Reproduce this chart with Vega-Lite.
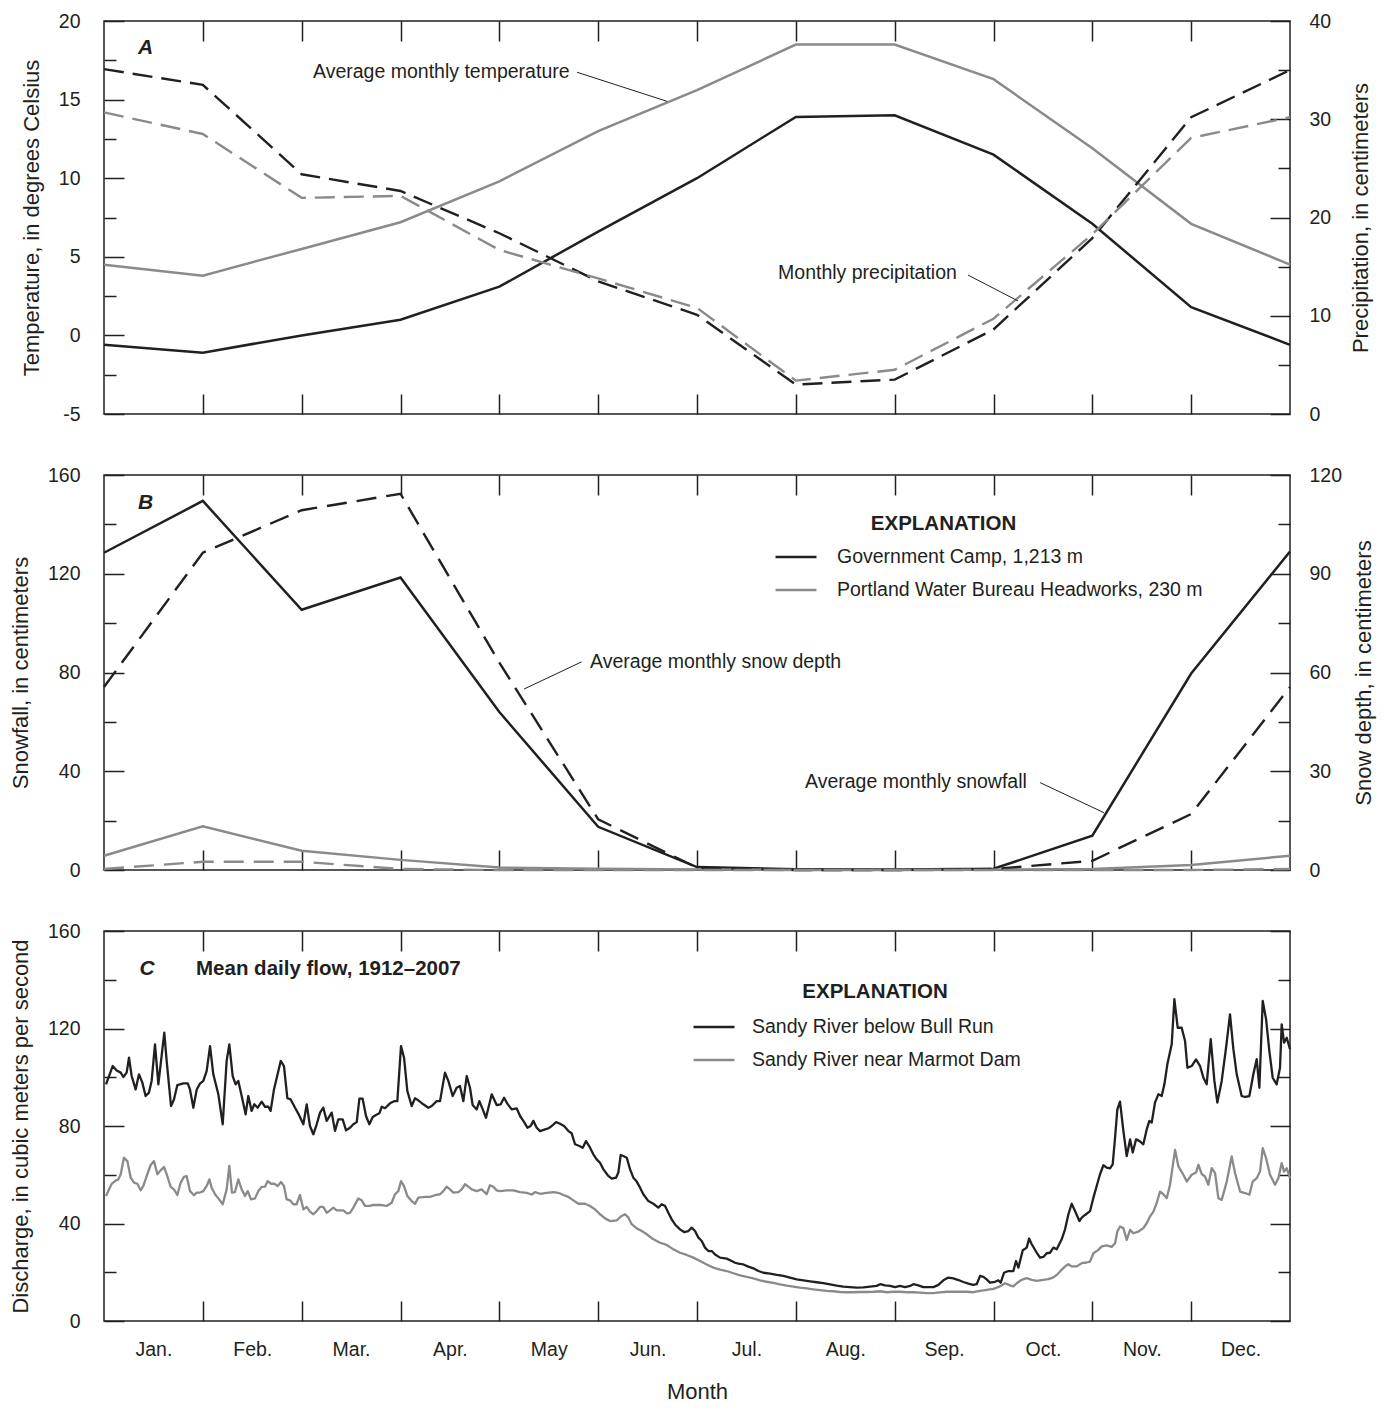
{
  "$schema": "https://vega.github.io/schema/vega-lite/v6.json",
  "background": "white",
  "padding": {"left": 8, "top": 10, "right": 8, "bottom": 5},
  "spacing": 61,
  "bounds": "flush",
  "config": {
    "font": "Liberation Sans",
    "view": {"stroke": "#231f20", "strokeWidth": 1.5},
    "axis": {"domain": false, "grid": false, "tickColor": "#231f20", "tickWidth": 1.5, "labelFont": "Liberation Sans", "labelFontSize": 19.5, "labelColor": "#231f20", "titleFont": "Liberation Sans", "titleFontSize": 22, "titleFontWeight": "normal", "titleColor": "#231f20", "labelFlush": false, "labelOverlap": false},
    "legend": {"labelFont": "Liberation Sans", "labelLimit": 600},
    "text": {"font": "Liberation Sans", "color": "#231f20"}
  },
  "resolve": {"scale": {"color": "independent"}, "legend": {"color": "independent"}},
  "datasets": {
    "monthly": [
      {"m":0,"st":"Government Camp, 1,213 m","temp":-0.6,"prcp":35.1,"snow":128.5,"depth":55.6},
      {"m":1,"st":"Government Camp, 1,213 m","temp":-1.1,"prcp":33.5,"snow":149.5,"depth":96.4},
      {"m":2,"st":"Government Camp, 1,213 m","temp":0.0,"prcp":24.4,"snow":105.4,"depth":109.3},
      {"m":3,"st":"Government Camp, 1,213 m","temp":1.0,"prcp":22.7,"snow":118.5,"depth":114.3},
      {"m":4,"st":"Government Camp, 1,213 m","temp":3.1,"prcp":18.4,"snow":64.0,"depth":63.0},
      {"m":5,"st":"Government Camp, 1,213 m","temp":6.6,"prcp":13.5,"snow":17.5,"depth":15.4},
      {"m":6,"st":"Government Camp, 1,213 m","temp":10.0,"prcp":10.1,"snow":1.2,"depth":0.7},
      {"m":7,"st":"Government Camp, 1,213 m","temp":13.9,"prcp":3.0,"snow":0.3,"depth":0},
      {"m":8,"st":"Government Camp, 1,213 m","temp":14.0,"prcp":3.5,"snow":0.2,"depth":0},
      {"m":9,"st":"Government Camp, 1,213 m","temp":11.5,"prcp":8.6,"snow":0.5,"depth":0.3},
      {"m":10,"st":"Government Camp, 1,213 m","temp":7.1,"prcp":17.9,"snow":13.9,"depth":2.8},
      {"m":11,"st":"Government Camp, 1,213 m","temp":1.8,"prcp":30.2,"snow":79.6,"depth":17.0},
      {"m":12,"st":"Government Camp, 1,213 m","temp":-0.6,"prcp":35.0,"snow":129.0,"depth":55.6},
      {"m":0,"st":"Portland Water Bureau Headworks, 230 m","temp":4.5,"prcp":30.7,"snow":5.8,"depth":0.3},
      {"m":1,"st":"Portland Water Bureau Headworks, 230 m","temp":3.8,"prcp":28.5,"snow":17.7,"depth":2.5},
      {"m":2,"st":"Portland Water Bureau Headworks, 230 m","temp":5.5,"prcp":22.0,"snow":7.8,"depth":2.5},
      {"m":3,"st":"Portland Water Bureau Headworks, 230 m","temp":7.2,"prcp":22.2,"snow":4.1,"depth":0.3},
      {"m":4,"st":"Portland Water Bureau Headworks, 230 m","temp":9.8,"prcp":16.7,"snow":1.0,"depth":0},
      {"m":5,"st":"Portland Water Bureau Headworks, 230 m","temp":13.0,"prcp":13.8,"snow":0.5,"depth":0},
      {"m":6,"st":"Portland Water Bureau Headworks, 230 m","temp":15.6,"prcp":10.8,"snow":0.2,"depth":0},
      {"m":7,"st":"Portland Water Bureau Headworks, 230 m","temp":18.5,"prcp":3.4,"snow":0,"depth":0},
      {"m":8,"st":"Portland Water Bureau Headworks, 230 m","temp":18.5,"prcp":4.5,"snow":0,"depth":0},
      {"m":9,"st":"Portland Water Bureau Headworks, 230 m","temp":16.3,"prcp":9.7,"snow":0.1,"depth":0},
      {"m":10,"st":"Portland Water Bureau Headworks, 230 m","temp":11.9,"prcp":18.3,"snow":0.4,"depth":0},
      {"m":11,"st":"Portland Water Bureau Headworks, 230 m","temp":7.1,"prcp":28.1,"snow":2.0,"depth":0},
      {"m":12,"st":"Portland Water Bureau Headworks, 230 m","temp":4.5,"prcp":30.2,"snow":5.8,"depth":0.3}
    ],
    "bull": [
      {"m":0.02,"q":97.1},{"m":0.088,"q":104.6},{"m":0.128,"q":102.8},{"m":0.169,"q":101.9},{"m":0.196,"q":100.1},{"m":0.229,"q":101.9},{"m":0.253,"q":108.0},{"m":0.28,"q":100.5},{"m":0.32,"q":95.0},{"m":0.354,"q":101.2},
      {"m":0.388,"q":97.8},{"m":0.421,"q":92.3},{"m":0.455,"q":93.7},{"m":0.482,"q":98.5},{"m":0.516,"q":113.5},{"m":0.55,"q":97.1},{"m":0.61,"q":118.3},{"m":0.634,"q":106.7},{"m":0.678,"q":88.2},{"m":0.708,"q":90.9},
      {"m":0.742,"q":96.8},{"m":0.803,"q":97.5},{"m":0.847,"q":97.5},{"m":0.87,"q":95.0},{"m":0.904,"q":87.5},{"m":0.938,"q":95.0},{"m":0.971,"q":97.4},{"m":1.005,"q":98.5},{"m":1.039,"q":102.6},{"m":1.073,"q":112.8},
      {"m":1.106,"q":101.2},{"m":1.157,"q":93.0},{"m":1.201,"q":80.7},{"m":1.241,"q":106.7},{"m":1.268,"q":113.5},{"m":1.302,"q":100.5},{"m":1.332,"q":97.1},{"m":1.359,"q":98.5},{"m":1.393,"q":92.3},{"m":1.433,"q":84.8},
      {"m":1.46,"q":92.3},{"m":1.494,"q":86.2},{"m":1.521,"q":88.9},{"m":1.555,"q":87.5},{"m":1.595,"q":90.0},{"m":1.629,"q":87.9},{"m":1.663,"q":87.9},{"m":1.686,"q":86.2},{"m":1.72,"q":95.0},{"m":1.788,"q":106.7},
      {"m":1.821,"q":104.6},{"m":1.855,"q":91.4},{"m":1.889,"q":90.9},{"m":1.933,"q":87.5},{"m":1.966,"q":85.1},{"m":2.017,"q":80.7},{"m":2.051,"q":88.9},{"m":2.084,"q":80.0},{"m":2.118,"q":76.6},{"m":2.152,"q":80.7},
      {"m":2.186,"q":85.5},{"m":2.219,"q":87.5},{"m":2.253,"q":82.1},{"m":2.304,"q":85.5},{"m":2.337,"q":78.0},{"m":2.371,"q":82.7},{"m":2.415,"q":82.7},{"m":2.449,"q":78.2},{"m":2.489,"q":79.3},{"m":2.523,"q":80.7},
      {"m":2.557,"q":81.6},{"m":2.584,"q":91.2},{"m":2.617,"q":91.2},{"m":2.651,"q":84.1},{"m":2.685,"q":80.7},{"m":2.719,"q":83.7},{"m":2.752,"q":84.5},{"m":2.786,"q":85.2},{"m":2.81,"q":87.9},{"m":2.843,"q":87.3},
      {"m":2.894,"q":89.3},{"m":2.935,"q":90.2},{"m":2.968,"q":90.2},{"m":3.005,"q":112.8},{"m":3.036,"q":108.0},{"m":3.069,"q":94.4},{"m":3.113,"q":88.2},{"m":3.147,"q":91.4},{"m":3.18,"q":90.5},{"m":3.231,"q":88.9},
      {"m":3.282,"q":87.5},{"m":3.316,"q":88.2},{"m":3.366,"q":90.2},{"m":3.4,"q":90.2},{"m":3.45,"q":101.9},{"m":3.484,"q":98.5},{"m":3.528,"q":92.3},{"m":3.568,"q":95.7},{"m":3.602,"q":96.4},{"m":3.636,"q":90.2},
      {"m":3.67,"q":100.5},{"m":3.703,"q":95.7},{"m":3.73,"q":88.6},{"m":3.771,"q":86.8},{"m":3.798,"q":90.2},{"m":3.832,"q":86.8},{"m":3.865,"q":83.4},{"m":3.923,"q":93.0},{"m":3.973,"q":88.6},{"m":4.014,"q":88.9},
      {"m":4.048,"q":91.6},{"m":4.081,"q":89.2},{"m":4.125,"q":86.8},{"m":4.176,"q":87.2},{"m":4.21,"q":84.1},{"m":4.243,"q":82.1},{"m":4.284,"q":79.3},{"m":4.317,"q":80.0},{"m":4.344,"q":82.1},{"m":4.378,"q":79.3},
      {"m":4.412,"q":77.9},{"m":4.462,"q":78.6},{"m":4.496,"q":79.0},{"m":4.53,"q":80.0},{"m":4.574,"q":81.6},{"m":4.614,"q":80.9},{"m":4.655,"q":80.0},{"m":4.699,"q":77.9},{"m":4.732,"q":77.0},{"m":4.766,"q":72.5},
      {"m":4.81,"q":71.8},{"m":4.844,"q":71.1},{"m":4.877,"q":73.8},{"m":4.918,"q":71.1},{"m":4.951,"q":68.4},{"m":4.985,"q":66.3},{"m":5.019,"q":64.9},{"m":5.053,"q":62.2},{"m":5.103,"q":59.5},{"m":5.137,"q":58.4},
      {"m":5.181,"q":58.8},{"m":5.204,"q":60.9},{"m":5.228,"q":68.1},{"m":5.255,"q":67.7},{"m":5.289,"q":67.0},{"m":5.323,"q":62.2},{"m":5.356,"q":58.8},{"m":5.39,"q":57.2},{"m":5.424,"q":54.7},{"m":5.457,"q":52.0},
      {"m":5.508,"q":49.2},{"m":5.559,"q":48.1},{"m":5.609,"q":46.5},{"m":5.643,"q":47.9},{"m":5.677,"q":47.2},{"m":5.71,"q":44.4},{"m":5.744,"q":41.7},{"m":5.778,"q":39.6},{"m":5.828,"q":37.6},{"m":5.869,"q":36.5},
      {"m":5.913,"q":36.9},{"m":5.946,"q":38.3},{"m":5.98,"q":36.9},{"m":6.014,"q":34.2},{"m":6.048,"q":32.8},{"m":6.081,"q":30.1},{"m":6.115,"q":28.7},{"m":6.149,"q":28.7},{"m":6.183,"q":27.3},{"m":6.233,"q":26.0},
      {"m":6.301,"q":25.6},{"m":6.351,"q":24.6},{"m":6.385,"q":23.9},{"m":6.419,"q":23.5},{"m":6.469,"q":23.2},{"m":6.52,"q":22.3},{"m":6.57,"q":21.6},{"m":6.621,"q":20.5},{"m":6.672,"q":19.8},{"m":6.739,"q":19.4},
      {"m":6.807,"q":18.9},{"m":6.874,"q":18.5},{"m":6.941,"q":17.8},{"m":7.009,"q":17.1},{"m":7.076,"q":16.7},{"m":7.144,"q":16.3},{"m":7.211,"q":15.9},{"m":7.279,"q":15.5},{"m":7.346,"q":15.0},{"m":7.414,"q":14.5},
      {"m":7.481,"q":14.1},{"m":7.548,"q":13.9},{"m":7.616,"q":13.7},{"m":7.683,"q":13.8},{"m":7.751,"q":14.1},{"m":7.818,"q":14.4},{"m":7.852,"q":15.1},{"m":7.903,"q":14.6},{"m":7.953,"q":14.4},{"m":8.004,"q":13.9},
      {"m":8.054,"q":14.4},{"m":8.105,"q":13.9},{"m":8.156,"q":14.4},{"m":8.189,"q":15.1},{"m":8.24,"q":14.6},{"m":8.29,"q":13.9},{"m":8.341,"q":13.9},{"m":8.392,"q":13.9},{"m":8.442,"q":14.8},{"m":8.493,"q":16.7},
      {"m":8.543,"q":17.8},{"m":8.594,"q":17.5},{"m":8.645,"q":16.8},{"m":8.695,"q":16.0},{"m":8.746,"q":15.3},{"m":8.796,"q":14.8},{"m":8.83,"q":15.1},{"m":8.864,"q":18.5},{"m":8.898,"q":18.1},{"m":8.931,"q":17.1},
      {"m":8.965,"q":15.7},{"m":9.016,"q":16.1},{"m":9.049,"q":16.7},{"m":9.073,"q":15.7},{"m":9.107,"q":19.8},{"m":9.15,"q":20.5},{"m":9.201,"q":20.5},{"m":9.228,"q":24.6},{"m":9.252,"q":21.9},{"m":9.296,"q":29.0},
      {"m":9.336,"q":30.1},{"m":9.36,"q":33.8},{"m":9.387,"q":31.5},{"m":9.43,"q":28.5},{"m":9.471,"q":26.0},{"m":9.505,"q":26.3},{"m":9.538,"q":27.8},{"m":9.572,"q":28.0},{"m":9.606,"q":30.1},{"m":9.64,"q":29.4},
      {"m":9.69,"q":33.5},{"m":9.724,"q":37.6},{"m":9.758,"q":43.8},{"m":9.791,"q":48.1},{"m":9.825,"q":45.1},{"m":9.869,"q":41.0},{"m":9.893,"q":42.4},{"m":9.926,"q":43.5},{"m":9.977,"q":45.1},{"m":10.011,"q":50.6},
      {"m":10.044,"q":55.4},{"m":10.078,"q":60.2},{"m":10.112,"q":63.9},{"m":10.145,"q":62.9},{"m":10.179,"q":62.6},{"m":10.206,"q":64.3},{"m":10.23,"q":75.2},{"m":10.253,"q":86.8},{"m":10.28,"q":90.0},{"m":10.314,"q":78.0},
      {"m":10.348,"q":67.7},{"m":10.382,"q":74.5},{"m":10.409,"q":69.1},{"m":10.442,"q":74.5},{"m":10.476,"q":73.9},{"m":10.516,"q":72.5},{"m":10.55,"q":78.6},{"m":10.577,"q":82.1},{"m":10.601,"q":81.4},{"m":10.634,"q":89.6},
      {"m":10.668,"q":93.0},{"m":10.702,"q":92.3},{"m":10.729,"q":97.1},{"m":10.759,"q":105.3},{"m":10.803,"q":113.5},{"m":10.83,"q":132.0},{"m":10.864,"q":120.3},{"m":10.904,"q":120.3},{"m":10.938,"q":114.9},{"m":10.962,"q":103.9},
      {"m":11.005,"q":104.6},{"m":11.049,"q":107.3},{"m":11.09,"q":104.6},{"m":11.124,"q":99.8},{"m":11.157,"q":97.1},{"m":11.198,"q":115.6},{"m":11.235,"q":98.5},{"m":11.265,"q":89.6},{"m":11.309,"q":98.5},{"m":11.353,"q":112.1},
      {"m":11.393,"q":125.8},{"m":11.427,"q":111.5},{"m":11.461,"q":101.2},{"m":11.511,"q":92.3},{"m":11.545,"q":91.9},{"m":11.589,"q":92.3},{"m":11.629,"q":101.2},{"m":11.663,"q":107.4},{"m":11.69,"q":95.7},{"m":11.724,"q":131.3},
      {"m":11.758,"q":123.8},{"m":11.791,"q":110.8},{"m":11.825,"q":99.8},{"m":11.865,"q":97.1},{"m":11.899,"q":103.9},{"m":11.916,"q":121.7},{"m":11.94,"q":114.2},{"m":11.967,"q":116.2},{"m":12.0,"q":111.5}
    ],
    "marmot": [
      {"m":0.02,"q":51.3},{"m":0.078,"q":56.3},{"m":0.111,"q":57.4},{"m":0.145,"q":58.1},{"m":0.169,"q":60.2},{"m":0.202,"q":67.0},{"m":0.236,"q":65.6},{"m":0.27,"q":58.8},{"m":0.304,"q":56.8},{"m":0.337,"q":56.3},
      {"m":0.371,"q":53.6},{"m":0.398,"q":55.4},{"m":0.438,"q":60.2},{"m":0.472,"q":64.0},{"m":0.506,"q":65.6},{"m":0.54,"q":60.2},{"m":0.573,"q":61.8},{"m":0.607,"q":63.2},{"m":0.634,"q":60.2},{"m":0.675,"q":55.0},
      {"m":0.708,"q":54.0},{"m":0.742,"q":51.7},{"m":0.776,"q":56.8},{"m":0.809,"q":59.1},{"m":0.836,"q":59.5},{"m":0.87,"q":53.3},{"m":0.911,"q":51.6},{"m":0.938,"q":52.7},{"m":0.971,"q":52.7},{"m":1.005,"q":53.3},
      {"m":1.039,"q":55.4},{"m":1.066,"q":58.1},{"m":1.089,"q":54.7},{"m":1.123,"q":52.0},{"m":1.157,"q":50.3},{"m":1.201,"q":47.9},{"m":1.241,"q":54.0},{"m":1.268,"q":63.6},{"m":1.295,"q":52.7},{"m":1.325,"q":52.9},
      {"m":1.359,"q":58.1},{"m":1.393,"q":54.0},{"m":1.427,"q":51.3},{"m":1.454,"q":53.3},{"m":1.487,"q":49.9},{"m":1.528,"q":50.3},{"m":1.562,"q":53.3},{"m":1.595,"q":55.0},{"m":1.629,"q":55.1},{"m":1.656,"q":57.4},
      {"m":1.69,"q":56.3},{"m":1.723,"q":56.3},{"m":1.757,"q":55.4},{"m":1.791,"q":57.0},{"m":1.821,"q":55.4},{"m":1.848,"q":49.9},{"m":1.882,"q":49.5},{"m":1.916,"q":47.9},{"m":1.949,"q":47.9},{"m":1.983,"q":51.7},
      {"m":2.017,"q":45.8},{"m":2.051,"q":46.8},{"m":2.084,"q":44.9},{"m":2.118,"q":43.8},{"m":2.152,"q":45.1},{"m":2.185,"q":46.8},{"m":2.219,"q":46.8},{"m":2.253,"q":44.4},{"m":2.287,"q":45.4},{"m":2.32,"q":46.5},
      {"m":2.354,"q":45.4},{"m":2.388,"q":45.4},{"m":2.422,"q":45.4},{"m":2.455,"q":44.2},{"m":2.489,"q":44.4},{"m":2.523,"q":46.5},{"m":2.573,"q":50.3},{"m":2.607,"q":49.5},{"m":2.641,"q":47.2},{"m":2.691,"q":47.2},
      {"m":2.725,"q":47.6},{"m":2.793,"q":47.6},{"m":2.86,"q":47.2},{"m":2.911,"q":48.5},{"m":2.944,"q":52.0},{"m":2.978,"q":53.3},{"m":3.005,"q":57.4},{"m":3.035,"q":55.4},{"m":3.069,"q":51.3},{"m":3.113,"q":49.2},
      {"m":3.147,"q":48.1},{"m":3.18,"q":50.6},{"m":3.248,"q":50.9},{"m":3.298,"q":50.9},{"m":3.349,"q":51.6},{"m":3.4,"q":52.0},{"m":3.433,"q":53.3},{"m":3.467,"q":55.1},{"m":3.501,"q":54.0},{"m":3.535,"q":52.7},
      {"m":3.585,"q":52.9},{"m":3.619,"q":54.0},{"m":3.653,"q":56.1},{"m":3.686,"q":55.1},{"m":3.72,"q":54.0},{"m":3.771,"q":53.3},{"m":3.821,"q":54.0},{"m":3.872,"q":52.0},{"m":3.905,"q":55.7},{"m":3.939,"q":55.1},
      {"m":3.973,"q":53.6},{"m":4.007,"q":53.3},{"m":4.075,"q":53.6},{"m":4.142,"q":53.6},{"m":4.21,"q":52.9},{"m":4.277,"q":52.6},{"m":4.328,"q":51.9},{"m":4.361,"q":52.9},{"m":4.412,"q":52.2},{"m":4.479,"q":52.6},
      {"m":4.547,"q":52.9},{"m":4.597,"q":52.6},{"m":4.648,"q":51.7},{"m":4.699,"q":50.9},{"m":4.749,"q":49.5},{"m":4.8,"q":48.1},{"m":4.867,"q":48.1},{"m":4.918,"q":47.2},{"m":4.968,"q":45.8},{"m":5.019,"q":43.8},
      {"m":5.07,"q":42.1},{"m":5.12,"q":41.0},{"m":5.188,"q":41.3},{"m":5.238,"q":43.1},{"m":5.272,"q":43.8},{"m":5.306,"q":42.4},{"m":5.339,"q":39.7},{"m":5.39,"q":38.0},{"m":5.441,"q":36.9},{"m":5.491,"q":35.6},
      {"m":5.559,"q":33.5},{"m":5.626,"q":32.1},{"m":5.694,"q":31.2},{"m":5.761,"q":29.4},{"m":5.828,"q":28.0},{"m":5.896,"q":27.1},{"m":5.963,"q":26.0},{"m":6.031,"q":24.6},{"m":6.098,"q":23.2},{"m":6.166,"q":21.9},
      {"m":6.233,"q":21.1},{"m":6.301,"q":20.5},{"m":6.368,"q":19.6},{"m":6.436,"q":18.7},{"m":6.503,"q":18.1},{"m":6.57,"q":17.5},{"m":6.638,"q":16.7},{"m":6.705,"q":16.1},{"m":6.773,"q":15.6},{"m":6.84,"q":15.0},
      {"m":6.908,"q":14.5},{"m":6.975,"q":14.1},{"m":7.043,"q":13.7},{"m":7.11,"q":13.4},{"m":7.178,"q":13.0},{"m":7.245,"q":12.7},{"m":7.312,"q":12.4},{"m":7.38,"q":12.2},{"m":7.447,"q":11.9},{"m":7.515,"q":11.8},
      {"m":7.582,"q":11.8},{"m":7.65,"q":11.9},{"m":7.717,"q":11.9},{"m":7.785,"q":12.0},{"m":7.852,"q":12.2},{"m":7.92,"q":11.8},{"m":7.987,"q":12.0},{"m":8.054,"q":12.0},{"m":8.122,"q":11.8},{"m":8.189,"q":11.8},
      {"m":8.257,"q":11.6},{"m":8.324,"q":11.4},{"m":8.392,"q":11.4},{"m":8.459,"q":11.7},{"m":8.527,"q":12.0},{"m":8.594,"q":12.0},{"m":8.661,"q":12.0},{"m":8.729,"q":12.0},{"m":8.796,"q":11.8},{"m":8.864,"q":12.4},
      {"m":8.931,"q":12.8},{"m":8.999,"q":13.2},{"m":9.066,"q":14.2},{"m":9.117,"q":15.5},{"m":9.167,"q":14.6},{"m":9.201,"q":14.2},{"m":9.235,"q":15.5},{"m":9.285,"q":16.9},{"m":9.336,"q":17.6},{"m":9.387,"q":16.9},
      {"m":9.437,"q":16.5},{"m":9.505,"q":16.9},{"m":9.555,"q":17.2},{"m":9.606,"q":17.9},{"m":9.64,"q":18.9},{"m":9.673,"q":20.3},{"m":9.724,"q":22.4},{"m":9.758,"q":23.3},{"m":9.791,"q":22.4},{"m":9.842,"q":22.4},
      {"m":9.893,"q":23.7},{"m":9.943,"q":24.0},{"m":9.977,"q":24.4},{"m":10.011,"q":27.8},{"m":10.061,"q":29.2},{"m":10.095,"q":30.6},{"m":10.145,"q":31.0},{"m":10.196,"q":30.4},{"m":10.23,"q":31.9},{"m":10.253,"q":36.7},
      {"m":10.28,"q":38.8},{"m":10.314,"q":38.1},{"m":10.348,"q":33.3},{"m":10.382,"q":37.4},{"m":10.415,"q":36.0},{"m":10.466,"q":36.7},{"m":10.516,"q":38.1},{"m":10.55,"q":40.1},{"m":10.584,"q":42.9},{"m":10.618,"q":44.9},
      {"m":10.651,"q":48.4},{"m":10.685,"q":53.1},{"m":10.719,"q":52.0},{"m":10.753,"q":50.4},{"m":10.786,"q":55.9},{"m":10.837,"q":70.2},{"m":10.871,"q":63.4},{"m":10.921,"q":60.0},{"m":10.955,"q":57.2},{"m":11.005,"q":60.0},
      {"m":11.049,"q":60.9},{"m":11.073,"q":64.1},{"m":11.107,"q":60.3},{"m":11.14,"q":59.3},{"m":11.174,"q":55.9},{"m":11.208,"q":62.7},{"m":11.242,"q":60.7},{"m":11.275,"q":50.4},{"m":11.309,"q":49.7},{"m":11.36,"q":57.2},
      {"m":11.41,"q":67.5},{"m":11.444,"q":60.7},{"m":11.495,"q":53.1},{"m":11.545,"q":52.5},{"m":11.589,"q":51.8},{"m":11.623,"q":57.2},{"m":11.663,"q":58.6},{"m":11.697,"q":61.3},{"m":11.724,"q":70.9},{"m":11.758,"q":66.8},
      {"m":11.798,"q":60.0},{"m":11.849,"q":55.9},{"m":11.882,"q":58.6},{"m":11.916,"q":64.8},{"m":11.94,"q":61.3},{"m":11.967,"q":62.7},{"m":12.0,"q":58.6}
    ]
  },
  "vconcat": [
    {
      "width": 1186, "height": 393,
      "layer": [
        {
          "data": {"name": "monthly"},
          "mark": {"type": "line", "strokeWidth": 2.5},
          "encoding": {
            "x": {"field": "m", "type": "quantitative", "scale": {"domain": [0, 12], "nice": false, "zero": false},
                  "axis": {"orient": "bottom", "values": [1,2,3,4,5,6,7,8,9,10,11], "labels": false, "tickSize": -20, "title": null}},
            "y": {"field": "temp", "type": "quantitative", "scale": {"domain": [-5, 20], "nice": false, "zero": false},
                  "axis": {"orient": "left", "values": [-5,-2.5,0,2.5,5,7.5,10,12.5,15,17.5,20],
                           "labelExpr": "datum.value % 5 == 0 ? (datum.value < 0 ? '-' + abs(datum.value) : '' + datum.value) : ''",
                           "tickSize": {"condition": {"test": "datum.value % 5 == 0", "value": -20}, "value": -12},
                           "labelPadding": 44, "title": "Temperature, in degrees Celsius", "titlePadding": 15}},
            "color": {"field": "st", "type": "nominal", "scale": {"domain": ["Government Camp, 1,213 m", "Portland Water Bureau Headworks, 230 m"], "range": ["#231f20", "#8a8a8a"]}, "legend": null}
          }
        },
        {
          "data": {"name": "monthly"},
          "mark": {"type": "line", "strokeWidth": 2.4, "strokeDash": [20, 9]},
          "encoding": {
            "x": {"field": "m", "type": "quantitative", "scale": {"domain": [0, 12], "nice": false, "zero": false},
                  "axis": {"orient": "top", "values": [1,2,3,4,5,6,7,8,9,10,11], "labels": false, "tickSize": -20, "title": null}},
            "y": {"field": "prcp", "type": "quantitative", "scale": {"domain": [0, 40], "nice": false, "zero": false},
                  "axis": {"orient": "right", "values": [0,5,10,15,20,25,30,35,40],
                           "labelExpr": "datum.value % 10 == 0 ? datum.label : ''",
                           "tickSize": {"condition": {"test": "datum.value % 10 == 0", "value": -20}, "value": -12},
                           "labelPadding": 39, "title": "Precipitation, in centimeters", "titleAngle": 270, "titleBaseline": "top", "titlePadding": 20}},
            "color": {"field": "st", "type": "nominal", "scale": {"domain": ["Government Camp, 1,213 m", "Portland Water Bureau Headworks, 230 m"], "range": ["#231f20", "#8a8a8a"]}, "legend": null}
          }
        },
        {
          "data": {"values": [
            {"m": 4.786, "v": 16.74, "m2": 5.697, "v2": 14.89},
            {"m": 8.742, "v": 3.84, "m2": 9.248, "v2": 2.19}
          ]},
          "mark": {"type": "rule", "strokeWidth": 1, "color": "#231f20"},
          "encoding": {
            "x": {"field": "m", "type": "quantitative", "scale": {"domain": [0, 12], "nice": false, "zero": false}, "axis": null},
            "x2": {"field": "m2"},
            "y": {"field": "v", "type": "quantitative", "scale": {"domain": [-5, 20], "nice": false, "zero": false}, "axis": null},
            "y2": {"field": "v2"}
          }
        },
        {
          "data": {"values": [
            {"m": 2.115, "v": 16.77, "label": "Average monthly temperature"},
            {"m": 6.82, "v": 3.94, "label": "Monthly precipitation"}
          ]},
          "mark": {"type": "text", "align": "left", "baseline": "middle", "fontSize": 19.5},
          "encoding": {
            "x": {"field": "m", "type": "quantitative", "scale": {"domain": [0, 12], "nice": false, "zero": false}, "axis": null},
            "y": {"field": "v", "type": "quantitative", "scale": {"domain": [-5, 20], "nice": false, "zero": false}, "axis": null},
            "text": {"field": "label"}
          }
        },
        {
          "data": {"values": [{"m": 0.42, "v": 18.3, "label": "A"}]},
          "mark": {"type": "text", "align": "center", "baseline": "middle", "fontSize": 21, "fontWeight": "bold", "fontStyle": "italic"},
          "encoding": {
            "x": {"field": "m", "type": "quantitative", "scale": {"domain": [0, 12], "nice": false, "zero": false}, "axis": null},
            "y": {"field": "v", "type": "quantitative", "scale": {"domain": [-5, 20], "nice": false, "zero": false}, "axis": null},
            "text": {"field": "label"}
          }
        }
      ],
      "resolve": {"scale": {"y": "independent"}, "axis": {"x": "independent", "y": "independent"}}
    },
    {
      "width": 1186, "height": 395,
      "layer": [
        {
          "data": {"name": "monthly"},
          "mark": {"type": "line", "strokeWidth": 2.5},
          "encoding": {
            "x": {"field": "m", "type": "quantitative", "scale": {"domain": [0, 12], "nice": false, "zero": false},
                  "axis": {"orient": "bottom", "values": [1,2,3,4,5,6,7,8,9,10,11], "labels": false, "tickSize": -20, "title": null}},
            "y": {"field": "snow", "type": "quantitative", "scale": {"domain": [0, 160], "nice": false, "zero": false},
                  "axis": {"orient": "left", "values": [0,20,40,60,80,100,120,140,160],
                           "labelExpr": "datum.value % 40 == 0 ? datum.label : ''",
                           "tickSize": {"condition": {"test": "datum.value % 40 == 0", "value": -20}, "value": -12},
                           "labelPadding": 44, "title": "Snowfall, in centimeters", "titlePadding": 15}},
            "color": {"field": "st", "type": "nominal", "scale": {"domain": ["Government Camp, 1,213 m", "Portland Water Bureau Headworks, 230 m"], "range": ["#231f20", "#8a8a8a"]},
                      "legend": {"orient": "none", "legendX": 670, "legendY": 72, "direction": "vertical", "title": null, "symbolType": "stroke", "symbolSize": 1681, "symbolStrokeWidth": 2.5, "labelFontSize": 19.5, "labelColor": "#231f20", "labelOffset": 19, "labelLimit": 600, "rowPadding": 13, "clipHeight": 20, "padding": 0}}
          }
        },
        {
          "data": {"name": "monthly"},
          "mark": {"type": "line", "strokeWidth": 2.4, "strokeDash": [20, 10]},
          "encoding": {
            "x": {"field": "m", "type": "quantitative", "scale": {"domain": [0, 12], "nice": false, "zero": false},
                  "axis": {"orient": "top", "values": [1,2,3,4,5,6,7,8,9,10,11], "labels": false, "tickSize": -20, "title": null}},
            "y": {"field": "depth", "type": "quantitative", "scale": {"domain": [0, 120], "nice": false, "zero": false},
                  "axis": {"orient": "right", "values": [0,15,30,45,60,75,90,105,120],
                           "labelExpr": "datum.value % 30 == 0 ? datum.label : ''",
                           "tickSize": {"condition": {"test": "datum.value % 30 == 0", "value": -20}, "value": -12},
                           "labelPadding": 39, "title": "Snow depth, in centimeters", "titleAngle": 270, "titleBaseline": "top", "titlePadding": 12}},
            "color": {"field": "st", "type": "nominal", "scale": {"domain": ["Government Camp, 1,213 m", "Portland Water Bureau Headworks, 230 m"], "range": ["#231f20", "#8a8a8a"]},
                      "legend": {"orient": "none", "legendX": 670, "legendY": 72, "direction": "vertical", "title": null, "symbolType": "stroke", "symbolSize": 1681, "symbolStrokeWidth": 2.5, "labelFontSize": 19.5, "labelColor": "#231f20", "labelOffset": 19, "labelLimit": 600, "rowPadding": 13, "clipHeight": 20, "padding": 0}}
          }
        },
        {
          "data": {"values": [
            {"m": 4.832, "v": 84.3, "m2": 4.25, "v2": 73.3},
            {"m": 9.471, "v": 35.4, "m2": 10.118, "v2": 23.2}
          ]},
          "mark": {"type": "rule", "strokeWidth": 1, "color": "#231f20"},
          "encoding": {
            "x": {"field": "m", "type": "quantitative", "scale": {"domain": [0, 12], "nice": false, "zero": false}, "axis": null},
            "x2": {"field": "m2"},
            "y": {"field": "v", "type": "quantitative", "scale": {"domain": [0, 160], "nice": false, "zero": false}, "axis": null},
            "y2": {"field": "v2"}
          }
        },
        {
          "data": {"values": [
            {"m": 4.918, "v": 84.3, "label": "Average monthly snow depth"},
            {"m": 7.093, "v": 35.6, "label": "Average monthly snowfall"}
          ]},
          "mark": {"type": "text", "align": "left", "baseline": "middle", "fontSize": 19.5},
          "encoding": {
            "x": {"field": "m", "type": "quantitative", "scale": {"domain": [0, 12], "nice": false, "zero": false}, "axis": null},
            "y": {"field": "v", "type": "quantitative", "scale": {"domain": [0, 160], "nice": false, "zero": false}, "axis": null},
            "text": {"field": "label"}
          }
        },
        {
          "data": {"values": [{"m": 8.494, "v": 140.2, "label": "EXPLANATION"}]},
          "mark": {"type": "text", "align": "center", "baseline": "middle", "fontSize": 20.5, "fontWeight": "bold"},
          "encoding": {
            "x": {"field": "m", "type": "quantitative", "scale": {"domain": [0, 12], "nice": false, "zero": false}, "axis": null},
            "y": {"field": "v", "type": "quantitative", "scale": {"domain": [0, 160], "nice": false, "zero": false}, "axis": null},
            "text": {"field": "label"}
          }
        },
        {
          "data": {"values": [{"m": 0.42, "v": 148.8, "label": "B"}]},
          "mark": {"type": "text", "align": "center", "baseline": "middle", "fontSize": 21, "fontWeight": "bold", "fontStyle": "italic"},
          "encoding": {
            "x": {"field": "m", "type": "quantitative", "scale": {"domain": [0, 12], "nice": false, "zero": false}, "axis": null},
            "y": {"field": "v", "type": "quantitative", "scale": {"domain": [0, 160], "nice": false, "zero": false}, "axis": null},
            "text": {"field": "label"}
          }
        }
      ],
      "resolve": {"scale": {"y": "independent"}, "axis": {"x": "independent", "y": "independent"}}
    },
    {
      "width": 1186, "height": 390,
      "layer": [
        {
          "data": {"name": "bull"},
          "mark": {"type": "line", "strokeWidth": 2.3, "strokeJoin": "round"},
          "encoding": {
            "x": {"field": "m", "type": "quantitative", "scale": {"domain": [0, 12], "nice": false, "zero": false},
                  "axis": {"orient": "bottom", "values": [1,2,3,4,5,6,7,8,9,10,11], "labels": false, "tickSize": -20, "title": null}},
            "y": {"field": "q", "type": "quantitative", "scale": {"domain": [0, 160], "nice": false, "zero": false},
                  "axis": {"orient": "left", "values": [0,20,40,60,80,100,120,140,160],
                           "labelExpr": "datum.value % 40 == 0 ? datum.label : ''",
                           "tickSize": {"condition": {"test": "datum.value % 40 == 0", "value": -20}, "value": -12},
                           "labelPadding": 44, "title": "Discharge, in cubic meters per second", "titlePadding": 15}},
            "color": {"datum": "Sandy River below Bull Run", "type": "nominal",
                      "scale": {"domain": ["Sandy River below Bull Run", "Sandy River near Marmot Dam"], "range": ["#231f20", "#8a8a8a"]},
                      "legend": {"orient": "none", "legendX": 588, "legendY": 86, "direction": "vertical", "title": null, "symbolType": "stroke", "symbolSize": 1681, "symbolStrokeWidth": 2.5, "labelFontSize": 19.5, "labelColor": "#231f20", "labelOffset": 16, "labelLimit": 600, "rowPadding": 13, "clipHeight": 20, "padding": 0}}
          }
        },
        {
          "data": {"name": "marmot"},
          "mark": {"type": "line", "strokeWidth": 2.3, "strokeJoin": "round"},
          "encoding": {
            "x": {"field": "m", "type": "quantitative", "scale": {"domain": [0, 12], "nice": false, "zero": false},
                  "axis": {"orient": "top", "values": [1,2,3,4,5,6,7,8,9,10,11], "labels": false, "tickSize": -20, "title": null}},
            "y": {"field": "q", "type": "quantitative", "scale": {"domain": [0, 160], "nice": false, "zero": false},
                  "axis": {"orient": "right", "values": [0,20,40,60,80,100,120,140,160], "labels": false,
                           "tickSize": {"condition": {"test": "datum.value % 40 == 0", "value": -20}, "value": -12}, "title": null}},
            "color": {"datum": "Sandy River near Marmot Dam", "type": "nominal"}
          }
        },
        {
          "data": {"values": [{"m": 7.801, "v": 135.1, "label": "EXPLANATION"}]},
          "mark": {"type": "text", "align": "center", "baseline": "middle", "fontSize": 20.5, "fontWeight": "bold"},
          "encoding": {
            "x": {"field": "m", "type": "quantitative", "scale": {"domain": [0, 12], "nice": false, "zero": false},
                  "axis": {"orient": "bottom", "values": [0.5,1.5,2.5,3.5,4.5,5.5,6.5,7.5,8.5,9.5,10.5,11.5], "ticks": false, "tickSize": 0,
                           "labelExpr": "['Jan.','Feb.','Mar.','Apr.','May','Jun.','Jul.','Aug.','Sep.','Oct.','Nov.','Dec.'][floor(datum.value)]",
                           "labelPadding": 19, "title": "Month", "titlePadding": 23}},
            "y": {"field": "v", "type": "quantitative", "scale": {"domain": [0, 160], "nice": false, "zero": false}, "axis": null},
            "text": {"field": "label"}
          }
        },
        {
          "data": {"values": [{"m": 0.931, "v": 144.4, "label": "Mean daily flow, 1912\u20132007"}]},
          "mark": {"type": "text", "align": "left", "baseline": "middle", "fontSize": 20.5, "fontWeight": "bold"},
          "encoding": {
            "x": {"field": "m", "type": "quantitative", "scale": {"domain": [0, 12], "nice": false, "zero": false}, "axis": null},
            "y": {"field": "v", "type": "quantitative", "scale": {"domain": [0, 160], "nice": false, "zero": false}, "axis": null},
            "text": {"field": "label"}
          }
        },
        {
          "data": {"values": [{"m": 0.435, "v": 144.4, "label": "C"}]},
          "mark": {"type": "text", "align": "center", "baseline": "middle", "fontSize": 21, "fontWeight": "bold", "fontStyle": "italic"},
          "encoding": {
            "x": {"field": "m", "type": "quantitative", "scale": {"domain": [0, 12], "nice": false, "zero": false}, "axis": null},
            "y": {"field": "v", "type": "quantitative", "scale": {"domain": [0, 160], "nice": false, "zero": false}, "axis": null},
            "text": {"field": "label"}
          }
        }
      ],
      "resolve": {"axis": {"x": "independent", "y": "independent"}}
    }
  ]
}
